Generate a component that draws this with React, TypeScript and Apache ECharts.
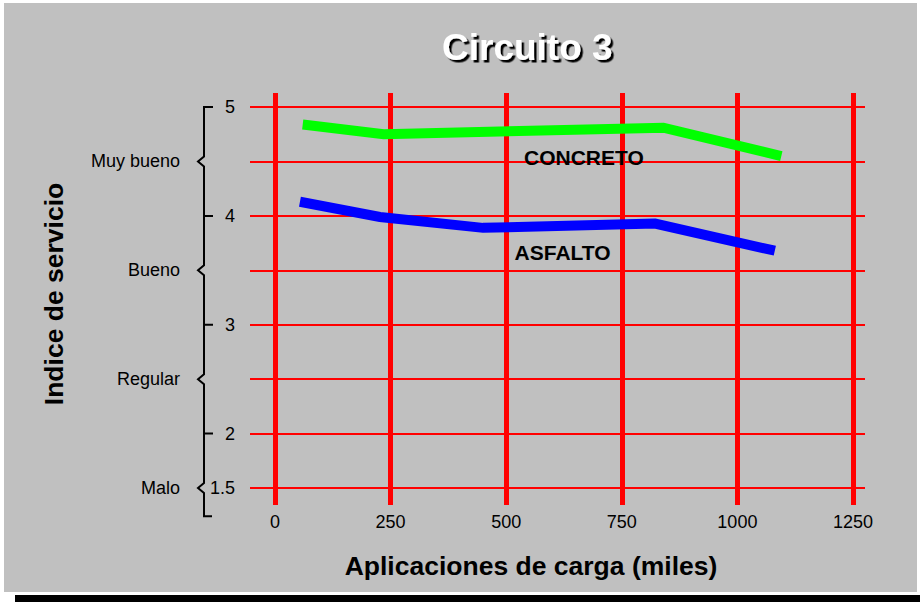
import React, { useEffect, useRef } from "react";
import * as echarts from "echarts";

// Load applications (thousands) on the x axis, service index on the y axis
const X_TICKS = [0, 250, 500, 750, 1000, 1250];
const Y_TICKS = [1.5, 2, 3, 4, 5];
const Y_GRID = [1.5, 2, 2.5, 3, 3.5, 4, 4.5, 5];
const RATINGS = ["Malo", "Regular", "Bueno", "Muy bueno"];
const RATING_LEVELS = [1.5, 2.5, 3.5, 4.5];

const CONCRETO_X = [60, 235, 840, 1095];
const CONCRETO_Y = [4.84, 4.75, 4.81, 4.55];
const ASFALTO_X = [54, 227, 450, 822, 1081];
const ASFALTO_Y = [4.13, 3.99, 3.89, 3.93, 3.68];

// where the series names are written inside the plot
const CONCRETO_LABEL = [668, 4.54];
const ASFALTO_LABEL = [622, 3.66];

// bracket drawn beside the numeric scale runs from 5 down to here
const BRACE_BOTTOM = 1.24;

const FONT = "'Liberation Sans', Arial, sans-serif";
const RED = "#ff0000";

const pairs = (xs: number[], ys: number[]) => xs.map((x, i) => [x, ys[i]]);

const nameStyle = {
  fontFamily: FONT,
  fontSize: 26.5,
  fontWeight: "bold",
  color: "#000",
};

export default function App() {
  const ref = useRef<HTMLDivElement>(null);

  useEffect(() => {
    if (!ref.current) return;
    const chart = echarts.init(ref.current, null, { renderer: "svg" });

    const gridLeft = 250;
    const gridTop = 93;

    const option: any = {
      animation: false,
      backgroundColor: "#ffffff",
      textStyle: { fontFamily: FONT },
      title: {
        text: "Circuito 3",
        left: 442,
        top: 29,
        padding: 0,
        textStyle: {
          fontFamily: FONT,
          fontSize: 37,
          fontWeight: "bold",
          color: "#ffffff",
          textShadowColor: "#000000",
          textShadowBlur: 1,
          textShadowOffsetX: 2.5,
          textShadowOffsetY: 2.5,
        },
      },
      grid: { left: gridLeft, top: gridTop, width: 615, height: 412 },
      xAxis: {
        type: "value",
        min: -54,
        max: 1276,
        axisLine: { show: false },
        axisTick: { show: false },
        splitLine: { show: false },
        axisLabel: {
          customValues: X_TICKS,
          margin: 8,
          fontSize: 18,
          color: "#000",
          fontFamily: FONT,
          formatter: (v: number) => String(v),
        },
        name: "Aplicaciones de carga (miles)",
        nameLocation: "middle",
        nameGap: 47,
        nameTextStyle: { ...nameStyle, padding: [0, 53, 0, 0] },
      },
      yAxis: [
        {
          type: "value",
          min: 1.344,
          max: 5.129,
          axisLine: { show: false },
          axisTick: { show: false },
          splitLine: { show: false },
          axisLabel: {
            customValues: Y_TICKS,
            margin: 15,
            fontSize: 18,
            color: "#000",
            fontFamily: FONT,
            formatter: (v: number) => String(v),
          },
          name: "Indice de servicio",
          nameLocation: "middle",
          nameGap: 183,
          nameTextStyle: { ...nameStyle, padding: [0, 0, 0, 10] },
        },
        {
          type: "value",
          min: 1.344,
          max: 5.129,
          position: "left",
          axisLine: { show: false },
          axisTick: { show: false },
          splitLine: { show: false },
          axisLabel: {
            customValues: RATING_LEVELS,
            margin: 70,
            fontSize: 18,
            color: "#000",
            fontFamily: FONT,
            formatter: (v: number) => {
              const i = RATING_LEVELS.findIndex((l) => Math.abs(l - v) < 1e-6);
              return i >= 0 ? RATINGS[i] : "";
            },
          },
        },
      ],
      series: [
        {
          // red grid lines
          type: "line",
          data: [],
          silent: true,
          markLine: {
            z: 1,
            silent: true,
            symbol: "none",
            label: { show: false },
            data: [
              ...Y_GRID.map((v) => ({
                yAxis: v,
                lineStyle: { color: RED, width: 2, type: "solid" },
              })),
              ...X_TICKS.map((v) => ({
                xAxis: v,
                lineStyle: { color: RED, width: 5, type: "solid" },
              })),
            ],
          },
        },
        {
          name: "CONCRETO",
          type: "line",
          z: 3,
          data: pairs(CONCRETO_X, CONCRETO_Y),
          showSymbol: false,
          symbol: "none",
          lineStyle: { color: "#00ff00", width: 10, cap: "butt", join: "miter" },
          markPoint: {
            z: 4,
            symbol: "circle",
            symbolSize: 0,
            data: [
              {
                coord: CONCRETO_LABEL,
                label: {
                  show: true,
                  position: "inside",
                  formatter: "CONCRETO",
                  fontFamily: FONT,
                  fontSize: 21,
                  fontWeight: "bold",
                  color: "#000",
                },
              },
            ],
          },
        },
        {
          name: "ASFALTO",
          type: "line",
          z: 3,
          data: pairs(ASFALTO_X, ASFALTO_Y),
          showSymbol: false,
          symbol: "none",
          lineStyle: { color: "#0000ff", width: 10, cap: "butt", join: "miter" },
          markPoint: {
            z: 4,
            symbol: "circle",
            symbolSize: 0,
            data: [
              {
                coord: ASFALTO_LABEL,
                label: {
                  show: true,
                  position: "inside",
                  formatter: "ASFALTO",
                  fontFamily: FONT,
                  fontSize: 21,
                  fontWeight: "bold",
                  color: "#000",
                },
              },
            ],
          },
        },
      ],
    };

    chart.setOption(option);

    // bracket beside the numeric scale: ticks at whole values, points at the halves
    const yp = (v: number) => chart.convertToPixel({ yAxisIndex: 0 }, v) as number;
    const bx = gridLeft - 46;
    const tickEnd = bx + 9;
    const kinkX = bx - 6;
    const pts: number[][] = [
      [tickEnd, yp(5)],
      [bx, yp(5)],
    ];
    for (const lvl of [4.5, 4, 3.5, 3, 2.5, 2, 1.5]) {
      const y = yp(lvl);
      if (lvl % 1 !== 0) {
        pts.push([bx, y - 5], [kinkX, y], [bx, y + 5]);
      } else {
        pts.push([bx, y], [tickEnd, y], [bx, y]);
      }
    }
    const yb = yp(BRACE_BOTTOM);
    pts.push([bx, yb], [tickEnd - 1, yb]);

    chart.setOption({
      graphic: [
        {
          type: "rect",
          z: -10,
          silent: true,
          shape: { x: 4, y: 3, width: 913, height: 589 },
          style: { fill: "#c0c0c0" },
        },
        {
          type: "rect",
          z: -10,
          silent: true,
          shape: { x: 15, y: 595, width: 905, height: 7 },
          style: { fill: "#000000" },
        },
        {
          type: "polyline",
          silent: true,
          shape: { points: pts },
          style: { stroke: "#000", lineWidth: 2, fill: null, lineJoin: "miter" },
        },
      ],
    });

    return () => chart.dispose();
  }, []);

  return (
    <div
      ref={ref}
      style={{ position: "fixed", left: 0, top: 0, width: 920, height: 602 }}
    />
  );
}
